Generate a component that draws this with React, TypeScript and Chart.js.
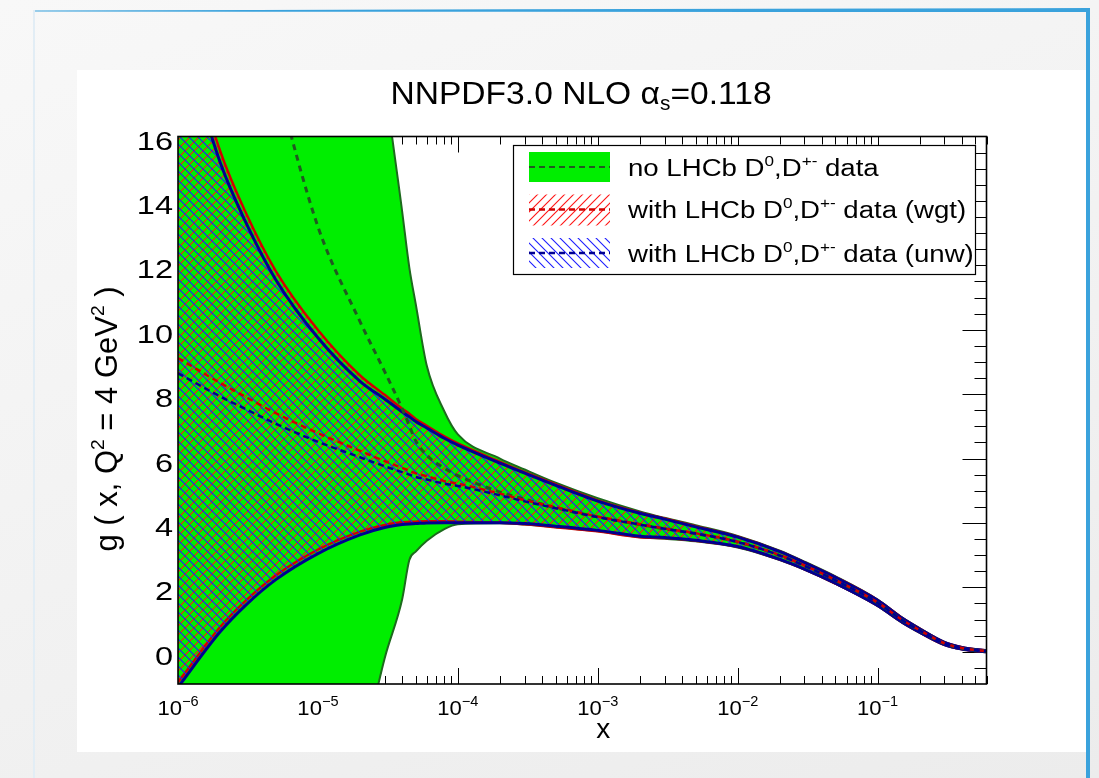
import React, { useEffect, useRef } from 'react';
import { Chart, registerables } from 'chart.js';

Chart.register(...registerables);

const FONT = '"Liberation Sans", Arial, Helvetica, sans-serif';

// momentum fraction grid
const xValues = [1e-6, 2e-6, 3e-6, 5e-6, 1e-5, 2e-5, 3e-5, 4e-5, 4.5e-5, 5e-5, 6e-5, 8e-5, 1e-4, 2e-4, 3e-4, 5e-4, 1e-3, 2e-3, 3e-3, 5e-3, 1e-2, 2e-2, 3e-2, 5e-2, 0.1, 0.15, 0.2, 0.3, 0.4, 0.5, 0.6];

// no LHCb D0,D+- data (68% band and central value)
const refUpper = [85, 72, 64, 52, 38, 25, 17.8, 13.67, 11.93, 10.8, 8.88, 7.47, 6.75, 6.0, 5.66, 5.25, 4.77, 4.36, 4.16, 3.93, 3.6, 3.14, 2.8, 2.34, 1.62, 1.06, 0.73, 0.31, 0.145, 0.08, 0.045];
const refLower = [-32, -26, -21, -15, -9, -3.5, -0.2, 1.63, 2.85, 3.11, 3.45, 3.81, 3.96, 3.99, 3.95, 3.87, 3.74, 3.56, 3.51, 3.43, 3.24, 2.85, 2.55, 2.11, 1.42, 0.9, 0.59, 0.21, 0.075, 0.02, -0.01];
const refCentral = [30, 24.5, 21.5, 17.8, 13.2, 10.25, 8.7, 7.55, 7.02, 6.55, 6.1, 5.7, 5.47, 4.96, 4.74, 4.47, 4.19, 3.95, 3.82, 3.67, 3.41, 2.99, 2.67, 2.22, 1.52, 0.98, 0.66, 0.26, 0.11, 0.05, 0.02];

// with LHCb D0,D+- data, weighted
const wgtUpper = [19.9, 15.55, 13.7, 11.82, 9.99, 8.58, 7.98, 7.55, 7.39, 7.23, 7.02, 6.69, 6.47, 5.9, 5.58, 5.2, 4.7, 4.32, 4.14, 3.9, 3.57, 3.12, 2.78, 2.32, 1.61, 1.05, 0.72, 0.3, 0.14, 0.075, 0.045];
const wgtLower = [-0.95, 0.77, 1.56, 2.37, 3.17, 3.73, 3.94, 4.02, 4.03, 4.04, 4.05, 4.05, 4.04, 4.01, 3.96, 3.87, 3.74, 3.56, 3.53, 3.45, 3.26, 2.86, 2.56, 2.12, 1.43, 0.91, 0.6, 0.215, 0.08, 0.025, -0.005];
const wgtCentral = [9.12, 8.35, 7.93, 7.41, 6.79, 6.24, 5.92, 5.71, 5.62, 5.54, 5.45, 5.3, 5.22, 4.91, 4.71, 4.49, 4.2, 3.96, 3.83, 3.68, 3.42, 3.0, 2.68, 2.23, 1.53, 0.99, 0.67, 0.265, 0.115, 0.055, 0.025];

// with LHCb D0,D+- data, unweighted
const unwUpper = [19.5, 15.2, 13.4, 11.55, 9.75, 8.4, 7.85, 7.45, 7.3, 7.15, 6.95, 6.63, 6.42, 5.86, 5.55, 5.17, 4.68, 4.3, 4.12, 3.88, 3.56, 3.11, 2.77, 2.31, 1.6, 1.04, 0.71, 0.295, 0.135, 0.07, 0.04];
const unwLower = [-1.1, 0.62, 1.42, 2.24, 3.05, 3.63, 3.86, 3.95, 3.97, 3.98, 4.0, 4.01, 4.01, 4.01, 3.98, 3.9, 3.77, 3.59, 3.55, 3.46, 3.27, 2.87, 2.57, 2.13, 1.44, 0.92, 0.61, 0.225, 0.085, 0.03, 0.0];
const unwCentral = [8.65, 7.93, 7.55, 7.08, 6.52, 6.04, 5.76, 5.58, 5.5, 5.43, 5.35, 5.22, 5.15, 4.86, 4.67, 4.46, 4.18, 3.95, 3.82, 3.67, 3.41, 2.99, 2.67, 2.22, 1.52, 0.98, 0.66, 0.26, 0.11, 0.05, 0.02];

// axis ticks
const yTickLabels = ['0', '2', '4', '6', '8', '10', '12', '14', '16'];
const xTickExponents = ['-6', '-5', '-4', '-3', '-2', '-1'];
const X_MIN = 1e-6;
const X_MAX = 0.6;
const Y_MIN = -1;
const Y_MAX = 16;

type Part = { t: string; sup?: boolean; sub?: boolean };

const titleParts: Part[] = [{ t: 'NNPDF3.0 NLO ' }, { t: 'α' }, { t: 's', sub: true }, { t: '=0.118' }];
const yTitleParts: Part[] = [{ t: 'g ( x, Q' }, { t: '2', sup: true }, { t: ' = 4 GeV' }, { t: '2', sup: true }, { t: ' )' }];
const xTitle = 'x';
const legendLabels: Part[][] = [
  [{ t: 'no LHCb D' }, { t: '0', sup: true }, { t: ',D' }, { t: '+-', sup: true }, { t: ' data' }],
  [{ t: 'with LHCb D' }, { t: '0', sup: true }, { t: ',D' }, { t: '+-', sup: true }, { t: ' data (wgt)' }],
  [{ t: 'with LHCb D' }, { t: '0', sup: true }, { t: ',D' }, { t: '+-', sup: true }, { t: ' data (unw)' }],
];

const GREEN = '#00ee00';
const GREEN_LINE = '#1d6a1d';
const GREEN_DASH = '#215921';
const RED_LINE = '#d00000';
const BLUE_LINE = '#000090';
const RED_HATCH = '#ff1414';
const BLUE_HATCH = '#1e1eff';

function drawRich(
  ctx: CanvasRenderingContext2D,
  parts: Part[],
  x: number,
  y: number,
  size: number,
  align: 'left' | 'center' | 'right',
  sx = 1,
  rotate = 0,
  smallRatio = 0.62,
) {
  const small = size * smallRatio;
  ctx.save();
  ctx.translate(x, y);
  if (rotate) ctx.rotate(rotate);
  ctx.scale(sx, 1);
  ctx.textBaseline = 'alphabetic';
  ctx.textAlign = 'left';
  ctx.fillStyle = '#000';
  let w = 0;
  for (const p of parts) {
    ctx.font = `${p.sup || p.sub ? small : size}px ${FONT}`;
    w += ctx.measureText(p.t).width;
  }
  let cx = align === 'left' ? 0 : align === 'center' ? -w / 2 : -w;
  for (const p of parts) {
    ctx.font = `${p.sup || p.sub ? small : size}px ${FONT}`;
    const dy = p.sup ? -size * 0.42 : p.sub ? size * 0.2 : 0;
    ctx.fillText(p.t, cx, dy);
    cx += ctx.measureText(p.t).width;
  }
  ctx.restore();
}

function makeHatch(color: string, forward: boolean, step = 9): CanvasPattern {
  const c = document.createElement('canvas');
  c.width = step;
  c.height = step;
  const g = c.getContext('2d') as CanvasRenderingContext2D;
  g.strokeStyle = color;
  g.lineWidth = 1.1;
  g.beginPath();
  if (forward) {
    g.moveTo(-1, step + 1);
    g.lineTo(step + 1, -1);
    g.moveTo(-1, 1);
    g.lineTo(1, -1);
    g.moveTo(step - 1, step + 1);
    g.lineTo(step + 1, step - 1);
  } else {
    g.moveTo(-1, -1);
    g.lineTo(step + 1, step + 1);
    g.moveTo(step - 1, -1);
    g.lineTo(step + 1, 1);
    g.moveTo(-1, step - 1);
    g.lineTo(1, step + 1);
  }
  g.stroke();
  return g.createPattern(c, 'repeat') as CanvasPattern;
}

function framePlugin(redHatch: CanvasPattern, blueHatch: CanvasPattern) {
  return {
    id: 'pdfFrame',
    beforeDatasetsDraw(chart: any) {
      const { ctx, chartArea: a } = chart;
      const xs = chart.scales.x;
      const ys = chart.scales.y;
      ctx.save();
      ctx.strokeStyle = '#000';
      ctx.lineWidth = 1;
      ctx.beginPath();
      for (let v = Y_MIN + 0.5; v < Y_MAX; v += 0.5) {
        const p = Math.round(ys.getPixelForValue(v)) + 0.5;
        const len = v % 2 === 0 ? 24 : 12;
        ctx.moveTo(a.left, p);
        ctx.lineTo(a.left + len, p);
        ctx.moveTo(a.right, p);
        ctx.lineTo(a.right - len, p);
      }
      for (const e of xTickExponents.map(Number)) {
        for (let k = 1; k <= 9; k++) {
          const v = k * Math.pow(10, e);
          if (v > X_MAX * 1.0001) continue;
          const p = Math.round(xs.getPixelForValue(v)) + 0.5;
          const len = k === 1 ? 16 : 8;
          ctx.moveTo(p, a.bottom);
          ctx.lineTo(p, a.bottom - len);
          ctx.moveTo(p, a.top);
          ctx.lineTo(p, a.top + len);
        }
      }
      ctx.stroke();
      ctx.restore();
    },
    afterDatasetsDraw(chart: any) {
      const { ctx, chartArea: a } = chart;
      const xs = chart.scales.x;
      const ys = chart.scales.y;
      ctx.save();
      // frame
      ctx.strokeStyle = '#000';
      ctx.lineWidth = 1.6;
      ctx.strokeRect(a.left, a.top, a.right - a.left, a.bottom - a.top);

      // y tick labels
      for (const lab of yTickLabels) {
        const p = ys.getPixelForValue(Number(lab));
        drawRich(ctx, [{ t: lab }], a.left - 5, p + 13, 25, 'right', 1.3);
      }
      // x tick labels
      for (const e of xTickExponents) {
        const p = xs.getPixelForValue(Math.pow(10, Number(e)));
        drawRich(ctx, [{ t: '10' }, { t: e.replace('-', '−'), sup: true }], p, a.bottom + 31, 21, 'center', 1.05, 0, 0.66);
      }
      // axis titles
      drawRich(ctx, [{ t: xTitle }], (a.left + a.right) / 2 + 21, a.bottom + 54, 28, 'center');
      drawRich(ctx, yTitleParts, 40, 349, 31, 'center', 1, -Math.PI / 2);
      // title
      drawRich(ctx, titleParts, 504, 34, 32, 'center', 1.05);

      // legend box
      const lx = 436, ly = 75, lw = 462, lh = 129;
      ctx.fillStyle = '#fff';
      ctx.fillRect(lx, ly, lw, lh);
      ctx.strokeStyle = '#000';
      ctx.lineWidth = 1.2;
      ctx.strokeRect(lx + 0.5, ly + 0.5, lw, lh);

      const sx0 = 452, sw = 81;
      const rows = [97, 139.5, 183];
      // green swatch
      ctx.fillStyle = GREEN;
      ctx.fillRect(sx0, rows[0] - 15, sw, 30);
      // hatched swatches
      ctx.fillStyle = redHatch;
      ctx.fillRect(sx0, rows[1] - 15, sw, 31);
      ctx.fillStyle = blueHatch;
      ctx.fillRect(sx0, rows[2] - 15, sw, 30);
      const dashed = [
        { c: GREEN_DASH, y: rows[0], w: 2 },
        { c: RED_LINE, y: rows[1], w: 2.5 },
        { c: BLUE_LINE, y: rows[2], w: 2.5 },
      ];
      for (const d of dashed) {
        ctx.strokeStyle = d.c;
        ctx.lineWidth = d.w;
        ctx.setLineDash([6, 4]);
        ctx.beginPath();
        ctx.moveTo(sx0, d.y);
        ctx.lineTo(sx0 + sw, d.y);
        ctx.stroke();
      }
      ctx.setLineDash([]);
      legendLabels.forEach((parts, i) => {
        drawRich(ctx, parts, 551, rows[i] + 8.5, 23, 'left', 1.2);
      });
      ctx.restore();
    },
  };
}

export default function App() {
  const ref = useRef<HTMLCanvasElement>(null);

  useEffect(() => {
    const canvas = ref.current as HTMLCanvasElement;
    const redHatch = makeHatch(RED_HATCH, true);
    const blueHatch = makeHatch(BLUE_HATCH, false);
    const pts = (ys: number[]) => xValues.map((x, i) => ({ x, y: ys[i] }));
    const edge = (data: number[], color: string, width: number, order: number, extra: any = {}) => ({
      data: pts(data),
      borderColor: color,
      borderWidth: width,
      pointRadius: 0,
      fill: false,
      clip: 0,
      order,
      ...extra,
    });

    const chart = new Chart(canvas, {
      type: 'line',
      data: {
        datasets: [
          // 0,1: no LHCb band
          edge(refUpper, GREEN_LINE, 2, 9, { fill: '+1', backgroundColor: GREEN }),
          edge(refLower, GREEN_LINE, 2, 8),
          // 2,3: wgt band
          edge(wgtUpper, RED_LINE, 2.5, 7, { fill: '+1', backgroundColor: redHatch }),
          edge(wgtLower, RED_LINE, 2.5, 6),
          // 4,5: unw band
          edge(unwUpper, BLUE_LINE, 3, 5, { fill: '+1', backgroundColor: blueHatch }),
          edge(unwLower, BLUE_LINE, 3, 4),
          // central values
          edge(refCentral, GREEN_DASH, 3, 3, { borderDash: [6, 5] }),
          edge(wgtCentral, RED_LINE, 2.5, 2, { borderDash: [6, 4] }),
          edge(unwCentral, BLUE_LINE, 2.5, 1, { borderDash: [6, 4] }),
        ] as any,
      },
      options: {
        responsive: false,
        maintainAspectRatio: false,
        animation: false,
        devicePixelRatio: 1,
        events: [],
        layout: { padding: { left: 101, right: 99.5, top: 66.5, bottom: 68 } },
        elements: { line: { cubicInterpolationMode: 'monotone' }, point: { radius: 0 } },
        scales: {
          x: { type: 'logarithmic', min: X_MIN, max: X_MAX, display: false },
          y: { type: 'linear', min: Y_MIN, max: Y_MAX, display: false },
        },
        plugins: { legend: { display: false }, title: { display: false }, tooltip: { enabled: false } },
      } as any,
      plugins: [framePlugin(redHatch, blueHatch)],
    });
    return () => chart.destroy();
  }, []);

  return (
    <div
      style={{
        position: 'fixed',
        left: 0,
        top: 0,
        width: 1099,
        height: 778,
        overflow: 'hidden',
        background: 'linear-gradient(160deg, #f8f8f8 0%, #f1f1f1 60%, #ececec 100%)',
      }}
    >
      <div style={{ position: 'absolute', left: 33, top: 10, width: 2, height: 768, background: '#e2edf5' }} />
      <div
        style={{
          position: 'absolute',
          left: 35,
          top: 8,
          width: 1055,
          height: 4,
          background: '#3aa2dc',
          clipPath: 'polygon(0 60%, 100% 0, 100% 100%, 0 90%)',
        }}
      />
      <div style={{ position: 'absolute', left: 1086, top: 8, width: 4, height: 770, background: '#3aa2dc' }} />
      <div style={{ position: 'absolute', left: 77, top: 70, width: 1009, height: 682, background: '#fff' }}>
        <canvas ref={ref} width={1009} height={682} style={{ display: 'block', width: 1009, height: 682 }} />
      </div>
    </div>
  );
}
